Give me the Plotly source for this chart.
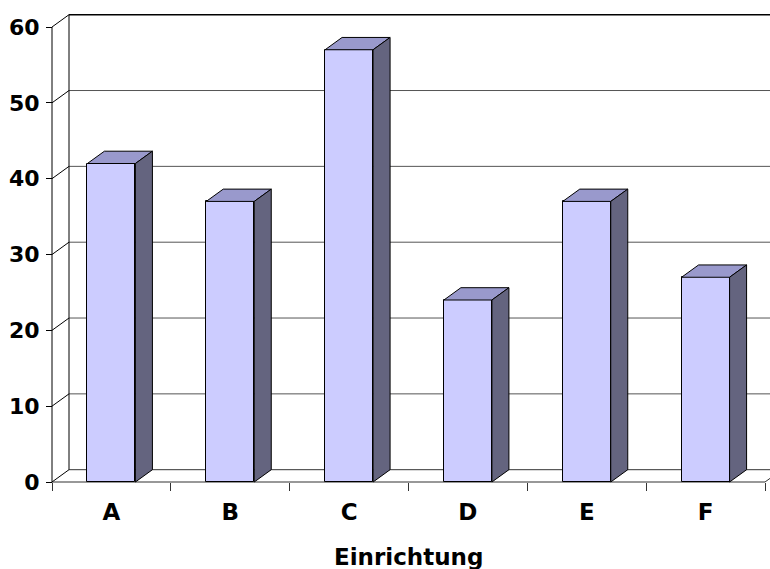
import plotly.graph_objects as go

# Data
categories = ["A", "B", "C", "D", "E", "F"]
values = [42, 37, 57, 24, 37, 27]
y_ticks = [0, 10, 20, 30, 40, 50, 60]
x_title = "Einrichtung"

# Geometry of the pseudo-3D frame (in data units)
W_PX, H_PX = 770, 569
LEFT_PX, RIGHT_PX = 52, 765      # front plane horizontal extent
ZERO_PX, TOP_PX = 482, 27         # y=0 and y=60 on the front plane
U = (RIGHT_PX - LEFT_PX) / len(categories)
V = (ZERO_PX - TOP_PX) / y_ticks[-1]
DX = 17 / U                       # depth offset, horizontal
DY = 12.3 / V                     # depth offset, vertical
BAR_W = 48 / U

x0 = -0.5
x1 = len(categories) - 0.5
x_range = [x0 - LEFT_PX / U, x0 + (W_PX - LEFT_PX) / U]
y_range = [-(H_PX - ZERO_PX) / V, ZERO_PX / V]

FRONT = "#CCCCFF"
TOPC = "#9999CC"
SIDE = "#64647F"
EDGE = "#000000"
GRID = "#555555"
FONT = "DejaVu Sans"

xs = list(range(len(categories)))

fig = go.Figure()

# Front faces of the columns
fig.add_trace(go.Bar(
    x=xs, y=values, width=BAR_W,
    marker=dict(color=FRONT, line=dict(color=EDGE, width=1)),
    hoverinfo="skip", showlegend=False,
))

# Top and side faces
for xi, v in zip(xs, values):
    l, r = xi - BAR_W / 2, xi + BAR_W / 2
    fig.add_trace(go.Scatter(
        x=[l, r, r + DX, l + DX, l], y=[v, v, v + DY, v + DY, v],
        mode="lines", fill="toself", fillcolor=TOPC,
        line=dict(color=EDGE, width=1), hoverinfo="skip", showlegend=False,
    ))
    fig.add_trace(go.Scatter(
        x=[r, r + DX, r + DX, r, r], y=[0, DY, v + DY, v, 0],
        mode="lines", fill="toself", fillcolor=SIDE,
        line=dict(color=EDGE, width=1), hoverinfo="skip", showlegend=False,
    ))

shapes = []
def seg(xa, ya, xb, yb, color=EDGE, width=1):
    shapes.append(dict(type="line", xref="x", yref="y", x0=xa, y0=ya, x1=xb, y1=yb,
                       line=dict(color=color, width=width), layer="below"))

# Back wall gridlines
for t in y_ticks[1:-1]:
    seg(x0 + DX, t + DY, x1 + DX + 1, t + DY, GRID, 1)
seg(x0 + DX, y_ticks[-1] + DY, x1 + DX + 1, y_ticks[-1] + DY, EDGE, 1.6)
# Floor
seg(x0 + DX, DY, x1 + DX + 1, DY, "#333333", 1)
seg(x0, 0, x1, 0, "#333333", 1.2)
seg(x1, 0, x1 + DX, DY, "#333333", 1)
# Side wall and front axis line
seg(x0 + DX, DY, x0 + DX, y_ticks[-1] + DY, EDGE, 1)
seg(x0, 0, x0, y_ticks[-1], EDGE, 1)
for t in y_ticks:
    seg(x0, t, x0 + DX, t + DY, EDGE, 1)

fig.update_layout(
    width=W_PX, height=H_PX,
    margin=dict(l=0, r=0, t=0, b=0),
    paper_bgcolor="white", plot_bgcolor="white",
    shapes=shapes,
    bargap=0,
    xaxis=dict(
        range=x_range, showgrid=False, zeroline=False, showline=False,
        anchor="free", position=(H_PX - ZERO_PX) / H_PX,
        tickmode="array", tickvals=xs, ticktext=categories, ticks="",
        tickfont=dict(family=FONT, size=23, color="black", weight="bold"),
        ticklabelstandoff=14,
        minor=dict(tickmode="array", tickvals=[i - 0.5 for i in range(len(categories) + 1)],
                   ticks="outside", ticklen=8, tickcolor="#333333", tickwidth=1),
    ),
    yaxis=dict(
        range=y_range, showgrid=False, zeroline=False, showline=False,
        anchor="free", position=LEFT_PX / W_PX,
        tickmode="array", tickvals=y_ticks, ticks="outside", ticklen=6,
        tickcolor=EDGE, tickwidth=1,
        tickfont=dict(family=FONT, size=22, color="black", weight="bold"),
        ticklabelstandoff=2,
    ),
    annotations=[dict(
        x=(x0 + x1) / 2, y=(H_PX - 557) / H_PX, xref="x", yref="paper", text=x_title,
        showarrow=False, font=dict(family=FONT, size=23, color="black", weight="bold"),
        xanchor="center", yanchor="middle",
    )],
)

fig.write_html("out.html")
